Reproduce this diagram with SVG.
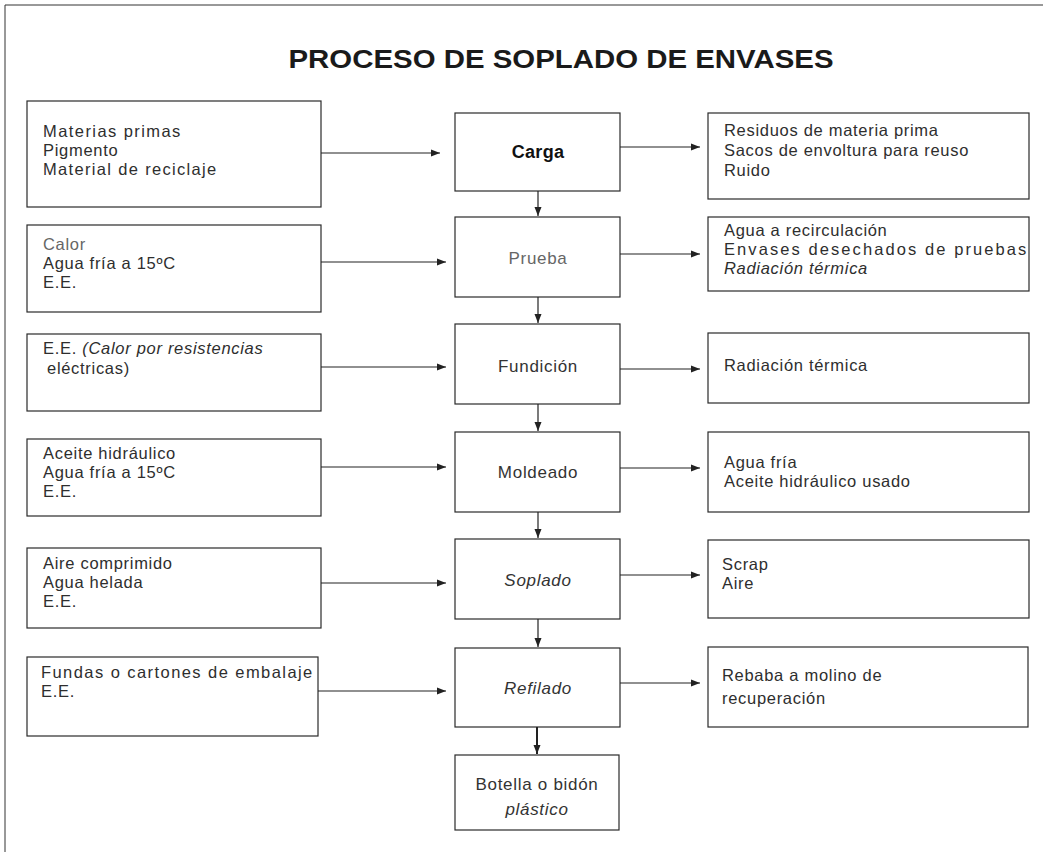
<svg xmlns="http://www.w3.org/2000/svg" width="1043" height="852" viewBox="0 0 1043 852">
<defs>
<style>
.bg{fill:#ffffff}
.frame{stroke:#333;stroke-width:1;fill:none}
.box{fill:#fff;stroke:#2a2a2a;stroke-width:1.2}
.t{font-family:"Liberation Sans",Arial,sans-serif;font-size:16.5px;fill:#2e2e2e;letter-spacing:0.7px}
.c{font-family:"Liberation Sans",Arial,sans-serif;font-size:17px;fill:#333;letter-spacing:0.7px;text-anchor:middle}
.i{font-style:italic}
.title{font-family:"Liberation Sans",Arial,sans-serif;font-size:25px;font-weight:bold;fill:#1a1a1a;text-anchor:middle}
.conn{stroke:#222;stroke-width:1.2;fill:none;marker-end:url(#ah)}
</style>
<marker id="ah" markerWidth="10" markerHeight="8" refX="9" refY="4" orient="auto" markerUnits="userSpaceOnUse">
<path d="M0,0.5 L9,4 L0,7.5 Z" fill="#222"/>
</marker>
</defs>
<rect class="bg" x="0" y="0" width="1043" height="852"/>
<path class="frame" d="M5,852 L5,5 L1043,5"/>
<text class="title" x="561" y="68" textLength="545" lengthAdjust="spacingAndGlyphs">PROCESO DE SOPLADO DE ENVASES</text>

<g id="in1"><rect class="box" x="27" y="101" width="294" height="106"/>
<text class="t" x="43" y="137" textLength="138">Materias primas</text><text class="t" x="43" y="156">Pigmento</text><text class="t" x="43" y="175" textLength="174">Material de reciclaje</text></g>
<g id="in2"><rect class="box" x="27" y="225" width="294" height="87"/>
<text class="t" x="43" y="250" style="fill:#666">Calor</text><text class="t" x="43" y="269">Agua fría a 15ºC</text><text class="t" x="43" y="288">E.E.</text></g>
<g id="in3"><rect class="box" x="27" y="334" width="294" height="77"/>
<text class="t" x="43" y="354">E.E. <tspan class="i">(Calor por resistencias</tspan></text><text class="t" x="47" y="374">eléctricas)</text></g>
<g id="in4"><rect class="box" x="27" y="439" width="294" height="77"/>
<text class="t" x="43" y="459">Aceite hidráulico</text><text class="t" x="43" y="478">Agua fría a 15ºC</text><text class="t" x="43" y="497">E.E.</text></g>
<g id="in5"><rect class="box" x="27" y="548" width="294" height="80"/>
<text class="t" x="43" y="569">Aire comprimido</text><text class="t" x="43" y="588">Agua helada</text><text class="t" x="43" y="607">E.E.</text></g>
<g id="in6"><rect class="box" x="27" y="657" width="291" height="79"/>
<text class="t" x="41" y="678" textLength="272">Fundas o cartones de embalaje</text><text class="t" x="41" y="697">E.E.</text></g>

<g id="carga"><rect class="box" x="455" y="113" width="165" height="78"/>
<text class="c" x="538" y="158" style="font-weight:bold;fill:#111;font-size:18px;letter-spacing:0.3px">Carga</text></g>
<g id="prueba"><rect class="box" x="455" y="217" width="165" height="80"/>
<text class="c" x="538" y="264" style="fill:#666">Prueba</text></g>
<g id="fundicion"><rect class="box" x="455" y="324" width="165" height="80"/>
<text class="c" x="538" y="372">Fundición</text></g>
<g id="moldeado"><rect class="box" x="455" y="432" width="165" height="80"/>
<text class="c" x="538" y="478">Moldeado</text></g>
<g id="soplado"><rect class="box" x="455" y="539" width="165" height="80"/>
<text class="c i" x="538" y="586">Soplado</text></g>
<g id="refilado"><rect class="box" x="455" y="648" width="165" height="79"/>
<text class="c i" x="538" y="694">Refilado</text></g>
<g id="botella"><rect class="box" x="455" y="755" width="164" height="75"/>
<text class="c" x="537" y="790">Botella o bidón</text><text class="c i" x="537" y="815">plástico</text></g>

<g id="out1"><rect class="box" x="708" y="113" width="321" height="86"/>
<text class="t" x="724" y="136">Residuos de materia prima</text><text class="t" x="724" y="156">Sacos de envoltura para reuso</text><text class="t" x="724" y="176">Ruido</text></g>
<g id="out2"><rect class="box" x="708" y="217" width="321" height="74"/>
<text class="t" x="724" y="236">Agua a recirculación</text><text class="t" x="724" y="255" textLength="303">Envases desechados de pruebas</text><text class="t i" x="724" y="274">Radiación térmica</text></g>
<g id="out3"><rect class="box" x="708" y="333" width="321" height="70"/>
<text class="t" x="724" y="371">Radiación térmica</text></g>
<g id="out4"><rect class="box" x="708" y="432" width="321" height="80"/>
<text class="t" x="724" y="468">Agua fría</text><text class="t" x="724" y="487">Aceite hidráulico usado</text></g>
<g id="out5"><rect class="box" x="708" y="540" width="321" height="78"/>
<text class="t" x="722" y="570">Scrap</text><text class="t" x="722" y="589">Aire</text></g>
<g id="out6"><rect class="box" x="708" y="647" width="320" height="80"/>
<text class="t" x="722" y="681">Rebaba a molino de</text><text class="t" x="722" y="704">recuperación</text></g>

<g id="connectors">
<line class="conn" x1="321" y1="153" x2="440" y2="153"/>
<line class="conn" x1="321" y1="262" x2="446" y2="262"/>
<line class="conn" x1="321" y1="367" x2="446" y2="367"/>
<line class="conn" x1="321" y1="467" x2="446" y2="467"/>
<line class="conn" x1="321" y1="583" x2="446" y2="583"/>
<line class="conn" x1="318" y1="691" x2="446" y2="691"/>
<line class="conn" x1="620" y1="147" x2="700" y2="147"/>
<line class="conn" x1="620" y1="254" x2="700" y2="254"/>
<line class="conn" x1="620" y1="369" x2="700" y2="369"/>
<line class="conn" x1="620" y1="468" x2="700" y2="468"/>
<line class="conn" x1="620" y1="575" x2="700" y2="575"/>
<line class="conn" x1="620" y1="683" x2="700" y2="683"/>
<line class="conn" x1="538" y1="191" x2="538" y2="216"/>
<line class="conn" x1="538" y1="297" x2="538" y2="323"/>
<line class="conn" x1="538" y1="404" x2="538" y2="431"/>
<line class="conn" x1="538" y1="512" x2="538" y2="538"/>
<line class="conn" x1="538" y1="619" x2="538" y2="647"/>
<line class="conn" x1="537" y1="727" x2="537" y2="754" style="stroke-width:2"/>
</g>
</svg>
